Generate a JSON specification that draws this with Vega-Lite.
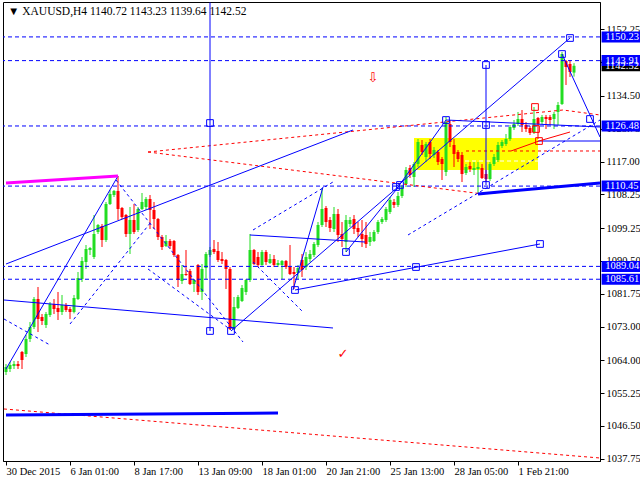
{
"$schema": "https://vega.github.io/schema/vega-lite/v6.json",
"width": 597, "height": 459, "padding": 0, "background": "white",
"config": {"view": {"stroke": "black", "strokeWidth": 1}, "font": "Liberation Sans Narrow", "scale": {"continuousPadding": 0},
  "axis": {"grid": false, "domainColor": "black", "tickColor": "black", "labelColor": "black", "labelFont": "Liberation Sans Narrow", "labelFontSize": 10.5, "labelOverlap": false, "labelFlush": false}},
"datasets": {
 "candles": [
{"i":0,"o":1060.87,"h":1063.01,"l":1060.07,"c":1062.21},
{"i":1,"o":1061.67,"h":1063.54,"l":1060.87,"c":1062.74},
{"i":2,"o":1062.47,"h":1063.81,"l":1061.67,"c":1063.01},
{"i":3,"o":1063.01,"h":1063.81,"l":1061.67,"c":1062.47},
{"i":4,"o":1066.21,"h":1066.47,"l":1061.67,"c":1064.07},
{"i":5,"o":1065.67,"h":1070.74,"l":1064.87,"c":1069.67},
{"i":6,"o":1069.67,"h":1074.21,"l":1068.87,"c":1072.87},
{"i":7,"o":1072.87,"h":1080.87,"l":1072.34,"c":1080.34},
{"i":8,"o":1080.34,"h":1083.54,"l":1071.54,"c":1075.01},
{"i":9,"o":1075.54,"h":1076.34,"l":1073.41,"c":1074.47},
{"i":10,"o":1073.41,"h":1076.87,"l":1072.61,"c":1076.34},
{"i":11,"o":1076.07,"h":1079.54,"l":1075.54,"c":1079.01},
{"i":12,"o":1079.01,"h":1080.34,"l":1076.34,"c":1077.67},
{"i":13,"o":1077.94,"h":1082.21,"l":1074.74,"c":1076.87},
{"i":14,"o":1076.87,"h":1081.41,"l":1076.07,"c":1078.74},
{"i":15,"o":1078.74,"h":1079.27,"l":1076.87,"c":1077.41},
{"i":16,"o":1077.67,"h":1078.21,"l":1075.01,"c":1076.87},
{"i":17,"o":1076.87,"h":1081.41,"l":1076.5,"c":1080.61},
{"i":18,"o":1080.34,"h":1087.54,"l":1080.07,"c":1085.94},
{"i":19,"o":1085.67,"h":1091.54,"l":1084.87,"c":1090.47},
{"i":20,"o":1090.21,"h":1094.74,"l":1088.34,"c":1093.67},
{"i":21,"o":1093.41,"h":1094.21,"l":1092.07,"c":1093.94},
{"i":22,"o":1091.54,"h":1102.74,"l":1091.01,"c":1097.67},
{"i":23,"o":1098.21,"h":1100.34,"l":1097.67,"c":1100.07},
{"i":24,"o":1099.81,"h":1100.34,"l":1094.21,"c":1096.07},
{"i":25,"o":1096.07,"h":1106.21,"l":1095.54,"c":1105.67},
{"i":26,"o":1105.67,"h":1109.41,"l":1105.41,"c":1108.34},
{"i":27,"o":1108.07,"h":1109.41,"l":1107.54,"c":1109.14},
{"i":28,"o":1109.14,"h":1113.14,"l":1101.41,"c":1104.34},
{"i":29,"o":1104.61,"h":1104.87,"l":1101.67,"c":1102.21},
{"i":30,"o":1102.74,"h":1103.01,"l":1096.87,"c":1097.67},
{"i":31,"o":1097.67,"h":1104.87,"l":1092.34,"c":1101.41},
{"i":32,"o":1101.41,"h":1105.67,"l":1097.67,"c":1098.21},
{"i":33,"o":1098.74,"h":1104.87,"l":1098.21,"c":1104.34},
{"i":34,"o":1104.34,"h":1108.61,"l":1104.07,"c":1106.21},
{"i":35,"o":1104.87,"h":1107.54,"l":1104.07,"c":1107.01},
{"i":36,"o":1107.01,"h":1108.07,"l":1099.01,"c":1104.07},
{"i":37,"o":1104.07,"h":1106.21,"l":1099.01,"c":1101.67},
{"i":38,"o":1101.67,"h":1101.94,"l":1096.07,"c":1096.87},
{"i":39,"o":1096.87,"h":1097.41,"l":1093.41,"c":1094.21},
{"i":40,"o":1094.47,"h":1097.41,"l":1094.21,"c":1095.81},
{"i":41,"o":1095.81,"h":1096.34,"l":1093.67,"c":1094.47},
{"i":42,"o":1095.81,"h":1096.07,"l":1091.54,"c":1092.07},
{"i":43,"o":1092.07,"h":1092.34,"l":1083.54,"c":1085.41},
{"i":44,"o":1085.14,"h":1089.41,"l":1084.34,"c":1087.01},
{"i":45,"o":1087.01,"h":1093.41,"l":1086.5,"c":1086.74},
{"i":46,"o":1087.81,"h":1088.34,"l":1084.07,"c":1084.34},
{"i":47,"o":1084.34,"h":1085.67,"l":1082.21,"c":1085.41},
{"i":48,"o":1089.41,"h":1089.67,"l":1081.41,"c":1082.21},
{"i":49,"o":1082.21,"h":1089.67,"l":1080.07,"c":1088.34},
{"i":50,"o":1088.61,"h":1092.87,"l":1085.67,"c":1092.34},
{"i":51,"o":1092.07,"h":1094.21,"l":1091.54,"c":1093.41},
{"i":52,"o":1093.67,"h":1096.07,"l":1092.34,"c":1092.87},
{"i":53,"o":1093.14,"h":1095.54,"l":1090.21,"c":1090.74},
{"i":54,"o":1091.01,"h":1092.87,"l":1089.67,"c":1090.47},
{"i":55,"o":1090.74,"h":1091.01,"l":1083.01,"c":1088.34},
{"i":56,"o":1088.34,"h":1088.87,"l":1072.07,"c":1072.34},
{"i":57,"o":1072.34,"h":1080.87,"l":1072.07,"c":1078.21},
{"i":58,"o":1077.94,"h":1081.41,"l":1077.67,"c":1080.87},
{"i":59,"o":1079.81,"h":1084.07,"l":1079.54,"c":1083.27},
{"i":60,"o":1082.21,"h":1085.67,"l":1081.41,"c":1085.41},
{"i":61,"o":1085.41,"h":1097.67,"l":1084.87,"c":1093.41},
{"i":62,"o":1093.41,"h":1093.67,"l":1089.41,"c":1089.67},
{"i":63,"o":1091.54,"h":1092.87,"l":1088.87,"c":1089.41},
{"i":64,"o":1089.41,"h":1093.41,"l":1089.2,"c":1092.87},
{"i":65,"o":1092.87,"h":1093.41,"l":1089.41,"c":1090.21},
{"i":66,"o":1089.94,"h":1092.34,"l":1089.67,"c":1091.01},
{"i":67,"o":1091.01,"h":1092.07,"l":1088.87,"c":1089.41},
{"i":68,"o":1089.41,"h":1090.74,"l":1088.87,"c":1089.94},
{"i":69,"o":1089.41,"h":1090.74,"l":1085.67,"c":1090.47},
{"i":70,"o":1090.47,"h":1090.74,"l":1088.34,"c":1088.87},
{"i":71,"o":1088.87,"h":1094.74,"l":1086.74,"c":1087.01},
{"i":72,"o":1087.54,"h":1088.87,"l":1083.01,"c":1087.01},
{"i":73,"o":1087.27,"h":1089.41,"l":1085.67,"c":1088.61},
{"i":74,"o":1090.74,"h":1092.34,"l":1086.21,"c":1088.07},
{"i":75,"o":1088.87,"h":1092.87,"l":1088.07,"c":1091.54},
{"i":76,"o":1091.01,"h":1093.41,"l":1090.21,"c":1092.34},
{"i":77,"o":1092.07,"h":1095.54,"l":1091.54,"c":1095.01},
{"i":78,"o":1094.74,"h":1100.87,"l":1094.21,"c":1100.07},
{"i":79,"o":1100.07,"h":1109.94,"l":1099.54,"c":1104.34},
{"i":80,"o":1104.61,"h":1105.14,"l":1099.54,"c":1100.87},
{"i":81,"o":1101.41,"h":1102.21,"l":1098.21,"c":1099.27},
{"i":82,"o":1099.01,"h":1104.87,"l":1098.21,"c":1103.01},
{"i":83,"o":1103.01,"h":1104.34,"l":1095.54,"c":1097.41},
{"i":84,"o":1097.67,"h":1100.87,"l":1094.21,"c":1096.34},
{"i":85,"o":1095.54,"h":1102.74,"l":1092.87,"c":1101.41},
{"i":86,"o":1100.34,"h":1102.21,"l":1099.54,"c":1101.41},
{"i":87,"o":1101.67,"h":1102.74,"l":1097.67,"c":1099.01},
{"i":88,"o":1099.27,"h":1100.87,"l":1096.87,"c":1098.21},
{"i":89,"o":1097.67,"h":1101.41,"l":1094.21,"c":1096.34},
{"i":90,"o":1097.41,"h":1100.87,"l":1093.94,"c":1095.01},
{"i":91,"o":1095.54,"h":1098.21,"l":1094.47,"c":1096.87},
{"i":92,"o":1095.81,"h":1098.74,"l":1095.54,"c":1098.21},
{"i":93,"o":1098.21,"h":1101.41,"l":1097.67,"c":1100.87},
{"i":94,"o":1100.87,"h":1102.21,"l":1100.34,"c":1101.67},
{"i":95,"o":1101.41,"h":1104.87,"l":1100.87,"c":1104.34},
{"i":96,"o":1103.54,"h":1107.54,"l":1103.01,"c":1106.74},
{"i":97,"o":1106.21,"h":1107.01,"l":1104.61,"c":1105.41},
{"i":98,"o":1105.41,"h":1108.87,"l":1104.87,"c":1107.81},
{"i":99,"o":1107.81,"h":1110.74,"l":1107.27,"c":1110.21},
{"i":100,"o":1111.01,"h":1115.54,"l":1110.21,"c":1114.74},
{"i":101,"o":1115.27,"h":1116.07,"l":1112.61,"c":1113.41},
{"i":102,"o":1112.87,"h":1116.87,"l":1110.21,"c":1116.34},
{"i":103,"o":1116.34,"h":1123.01,"l":1115.54,"c":1122.21},
{"i":104,"o":1121.41,"h":1122.74,"l":1118.74,"c":1119.54},
{"i":105,"o":1118.21,"h":1122.21,"l":1116.87,"c":1121.67},
{"i":106,"o":1122.21,"h":1123.01,"l":1117.67,"c":1119.01},
{"i":107,"o":1118.74,"h":1120.87,"l":1117.94,"c":1120.07},
{"i":108,"o":1119.54,"h":1120.07,"l":1116.07,"c":1116.87},
{"i":109,"o":1117.67,"h":1118.21,"l":1112.07,"c":1116.34},
{"i":110,"o":1114.21,"h":1128.87,"l":1113.14,"c":1127.54},
{"i":111,"o":1127.01,"h":1128.07,"l":1120.87,"c":1122.21},
{"i":112,"o":1121.41,"h":1123.01,"l":1115.54,"c":1119.01},
{"i":113,"o":1119.54,"h":1120.07,"l":1116.87,"c":1117.67},
{"i":114,"o":1118.74,"h":1119.54,"l":1111.54,"c":1113.67},
{"i":115,"o":1113.94,"h":1116.34,"l":1113.41,"c":1115.54},
{"i":116,"o":1115.81,"h":1116.87,"l":1114.21,"c":1115.01},
{"i":117,"o":1114.74,"h":1116.87,"l":1113.41,"c":1115.27},
{"i":118,"o":1115.01,"h":1116.87,"l":1108.34,"c":1115.54},
{"i":119,"o":1115.27,"h":1116.34,"l":1112.34,"c":1112.61},
{"i":120,"o":1113.67,"h":1114.74,"l":1111.54,"c":1112.34},
{"i":121,"o":1112.34,"h":1116.87,"l":1111.81,"c":1116.34},
{"i":122,"o":1116.34,"h":1119.01,"l":1115.81,"c":1118.21},
{"i":123,"o":1117.41,"h":1122.21,"l":1116.87,"c":1121.41},
{"i":124,"o":1121.14,"h":1122.74,"l":1120.61,"c":1122.21},
{"i":125,"o":1121.67,"h":1124.34,"l":1121.14,"c":1123.01},
{"i":126,"o":1123.01,"h":1126.74,"l":1122.47,"c":1126.21},
{"i":127,"o":1125.94,"h":1128.07,"l":1125.41,"c":1127.01},
{"i":128,"o":1127.01,"h":1130.21,"l":1126.47,"c":1128.34},
{"i":129,"o":1128.34,"h":1130.74,"l":1124.87,"c":1126.74},
{"i":130,"o":1126.74,"h":1127.54,"l":1124.87,"c":1125.67},
{"i":131,"o":1125.94,"h":1126.47,"l":1124.07,"c":1124.61},
{"i":132,"o":1124.87,"h":1131.54,"l":1124.34,"c":1128.34},
{"i":133,"o":1128.61,"h":1128.87,"l":1123.01,"c":1127.01},
{"i":134,"o":1127.54,"h":1129.41,"l":1127.01,"c":1128.87},
{"i":135,"o":1128.87,"h":1129.41,"l":1125.67,"c":1128.34},
{"i":136,"o":1128.87,"h":1129.41,"l":1126.74,"c":1128.07},
{"i":137,"o":1128.34,"h":1130.21,"l":1125.67,"c":1129.67},
{"i":138,"o":1130.21,"h":1132.87,"l":1126.74,"c":1132.07},
{"i":139,"o":1132.34,"h":1146.21,"l":1132.07,"c":1145.67},
{"i":140,"o":1143.81,"h":1144.07,"l":1137.41,"c":1142.21},
{"i":141,"o":1143.01,"h":1144.07,"l":1139.54,"c":1140.87},
{"i":142,"o":1140.72,"h":1143.23,"l":1139.64,"c":1142.52}
 ],
 "blueSolid": [
{"id":"a","i":0,"p":1061.67},{"id":"a","i":28,"p":1113.14},
{"id":"b","i":0,"p":1089.67},{"id":"b","i":86.75,"p":1125.41},
{"id":"c","i":-0.5,"p":1080.07},{"id":"c","i":81.75,"p":1072.61},
{"id":"d","i":51,"p":1159.4},{"id":"d","i":51,"p":1071.81},
{"id":"e","i":72.25,"p":1082.74},{"id":"e","i":133.5,"p":1095.01},
{"id":"f","i":61,"p":1097.41},{"id":"f","i":89.75,"p":1095.54},
{"id":"g","i":71.75,"p":1082.74},{"id":"g","i":79.25,"p":1110.21},
{"id":"h","i":56.25,"p":1071.81},{"id":"h","i":98,"p":1110.21},
{"id":"k","i":85,"p":1092.87},{"id":"k","i":98.5,"p":1110.74},
{"id":"j","i":98,"p":1110.21},{"id":"j","i":110,"p":1128.07},
{"id":"m","i":97.5,"p":1110.21},{"id":"m","i":141,"p":1149.94},
{"id":"n","i":139,"p":1145.67},{"id":"n","i":148.5,"p":1123.54},
{"id":"q","i":110,"p":1128.07},{"id":"q","i":148.5,"p":1126.21},
{"id":"r","i":133,"p":1122.47},{"id":"r","i":148.5,"p":1122.47},
{"id":"s","i":120,"p":1142.74},{"id":"s","i":120,"p":1110.74}
 ],
 "blueDash": [
{"id":"a","i":27.5,"p":1112.07},{"id":"a","i":59.25,"p":1068.87},
{"id":"b","i":35.5,"p":1088.34},{"id":"b","i":56.25,"p":1072.07},
{"id":"c","i":61.75,"p":1090.21},{"id":"c","i":74.25,"p":1076.87},
{"id":"d","i":100.5,"p":1097.41},{"id":"d","i":148.5,"p":1128.07},
{"id":"e","i":16,"p":1073.67},{"id":"e","i":36.25,"p":1100.87},
{"id":"f","i":61.75,"p":1098.74},{"id":"f","i":81.75,"p":1111.54},
{"id":"g","i":-0.5,"p":1075.01},{"id":"g","i":11,"p":1068.07}
 ],
 "redDash": [
{"id":"a","i":-0.5,"p":1051.01},{"id":"a","i":148.5,"p":1037.94},
{"id":"b","i":35.5,"p":1119.54},{"id":"b","i":139.25,"p":1130.74},{"id":"b","i":148.5,"p":1129.41},
{"id":"c","i":35.5,"p":1119.54},{"id":"c","i":119.25,"p":1108.34},{"id":"c","i":148.5,"p":1111.27},
{"id":"d","i":115,"p":1119.81},{"id":"d","i":148.5,"p":1119.81}
 ],
 "levels": [{"p":1150.23},{"p":1143.91},{"p":1126.48},{"p":1110.45},{"p":1089.04},{"p":1085.61}],
 "labels": [{"p":1142.52,"t":"1142.52","k":"cur"},{"p":1150.23,"t":"1150.23","k":"lvl"},{"p":1143.91,"t":"1143.91","k":"lvl"},{"p":1126.48,"t":"1126.48","k":"lvl"},{"p":1110.45,"t":"1110.45","k":"lvl"},{"p":1089.04,"t":"1089.04","k":"lvl"},{"p":1085.61,"t":"1085.61","k":"lvl"}]
},
"layer": [
 {
 "encoding": {
  "x": {"field": "i", "type": "quantitative", "title": null, "scale": {"domain": [-0.75, 148.5], "nice": false, "zero": false, "padding": 0},
    "axis": {"orient": "bottom", "values": [0,16,32,48,64,80,96,112,128], "labelExpr": "['30 Dec 2015','6 Jan 01:00','8 Jan 17:00','13 Jan 09:00','18 Jan 01:00','20 Jan 21:00','25 Jan 13:00','28 Jan 05:00','1 Feb 21:00'][round(datum.value/16)]", "labelAlign": "left", "labelFlush": false, "labelOverlap": false, "tickSize": 4, "labelPadding": 1, "title": null}},
  "y": {"field": "p", "type": "quantitative", "title": null, "scale": {"domain": [1037.14, 1159.54], "nice": false, "zero": false},
    "axis": {"orient": "right", "values": [1037.75,1046.5,1055.25,1064,1073,1081.75,1090.5,1099.25,1108.25,1117,1125.75,1134.5,1143.5,1152.25], "format": ".2f", "tickSize": 4, "labelPadding": 2, "labelFlush": false, "labelOverlap": false, "labelBaseline": "middle", "title": null}}
 },
 "layer": [
 {"data": {"values": [{"i":102,"i2":133,"p":1114.74,"p2":1123.27}]},
  "mark": {"type": "rect", "color": "#ffff00"},
  "encoding": {"x2": {"field": "i2"}, "y2": {"field": "p2"}}},
 {"data": {"values": [{"i":114.75,"i2":133,"p":1117.14}]},
  "mark": {"type": "rule", "color": "white", "strokeDash": [4,3]},
  "encoding": {"x2": {"field": "i2"}}},
 {"data": {"name": "candles"},
  "mark": {"type": "rule", "strokeWidth": 1},
  "encoding": {"y": {"field": "l", "type": "quantitative", "title": null}, "y2": {"field": "h"},
   "color": {"condition": {"test": "datum.c >= datum.o", "value": "#22dd22"}, "value": "#ff0000"}}},
 {"data": {"name": "candles"},
  "mark": {"type": "bar", "size": 3},
  "encoding": {"y": {"field": "o", "type": "quantitative", "title": null}, "y2": {"field": "c"},
   "color": {"condition": {"test": "datum.c >= datum.o", "value": "#22dd22"}, "value": "#ff0000"}}},
 {"data": {"name": "levels"},
  "mark": {"type": "rule", "color": "#0000ff", "strokeDash": [4,3], "strokeWidth": 1},
  "encoding": {"x": null}},
 {"data": {"name": "redDash"},
  "mark": {"type": "line", "color": "#ff0000", "strokeDash": [3,3], "strokeWidth": 1},
  "encoding": {"detail": {"field": "id"}}},
 {"data": {"name": "blueDash"},
  "mark": {"type": "line", "color": "#0000ff", "strokeDash": [3,3], "strokeWidth": 1},
  "encoding": {"detail": {"field": "id"}}},
 {"data": {"name": "blueSolid"},
  "mark": {"type": "line", "color": "#0000ff", "strokeWidth": 1},
  "encoding": {"detail": {"field": "id"}}},
 {"data": {"values": [{"id":"a","i":126.25,"p":1119.81},{"id":"a","i":133.25,"p":1122.47},{"id":"a","i":141,"p":1124.87}]},
  "mark": {"type": "line", "color": "#ff0000", "strokeWidth": 1},
  "encoding": {"detail": {"field": "id"}}},
 {"data": {"values": [{"id":"a","i":0,"p":1049.41},{"id":"a","i":68,"p":1049.94},{"id":"b","i":118,"p":1108.34},{"id":"b","i":148.5,"p":1111.27}]},
  "mark": {"type": "line", "color": "#0000ff", "strokeWidth": 3},
  "encoding": {"detail": {"field": "id"}}},
 {"data": {"values": [{"i":0,"p":1111.27},{"i":28,"p":1113.14}]},
  "mark": {"type": "line", "color": "#ff00ff", "strokeWidth": 3},
  "encoding": {}},
 {"data": {"values": [{"i":51,"p":1127.27},{"i":51,"p":1071.81},{"i":56.25,"p":1071.81},{"i":72.25,"p":1082.74},{"i":85,"p":1092.87},{"i":97.5,"p":1110.21},{"i":98.5,"p":1110.74},{"i":102.5,"p":1088.87},{"i":110,"p":1128.07},{"i":120,"p":1142.74},{"i":120,"p":1126.74},{"i":120,"p":1110.74},{"i":133.5,"p":1095.01},{"i":139,"p":1145.67},{"i":141,"p":1149.94},{"i":146,"p":1128.34}]},
  "mark": {"type": "point", "shape": "square", "filled": false, "size": 45, "color": "#0000ff", "strokeWidth": 1, "opacity": 1},
  "encoding": {}},
 {"data": {"values": [{"i":132.25,"p":1131.54},{"i":132.5,"p":1125.67},{"i":133.25,"p":1122.47}]},
  "mark": {"type": "point", "shape": "square", "filled": false, "size": 45, "color": "#ff0000", "strokeWidth": 1, "opacity": 1},
  "encoding": {}},
 {"data": {"values": [{"i":91.75,"p":1139.27,"t":"⇩"},{"i":84.25,"p":1065.67,"t":"✓"}]},
  "mark": {"type": "text", "color": "#ff0000", "fontSize": 13, "font": "DejaVu Sans", "baseline": "middle", "align": "center"},
  "encoding": {"text": {"field": "t"}}},
 {"data": {"values": [{"i":0.5,"p":1156.87,"t":"▼ XAUUSD,H4  1140.72 1143.23 1139.64 1142.52"}]},
  "mark": {"type": "text", "color": "black", "fontSize": 11.5, "font": "Liberation Sans Narrow", "baseline": "middle", "align": "left"},
  "encoding": {"text": {"field": "t"}}}
 ]},
 {"data": {"name": "labels"},
  "mark": {"type": "bar", "size": 11, "orient": "horizontal", "clip": false},
  "encoding": {"x": {"datum": 148.9, "type": "quantitative", "axis": {"orient": "bottom", "values": [0,16,32,48,64,80,96,112,128], "labelExpr": "['30 Dec 2015','6 Jan 01:00','8 Jan 17:00','13 Jan 09:00','18 Jan 01:00','20 Jan 21:00','25 Jan 13:00','28 Jan 05:00','1 Feb 21:00'][round(datum.value/16)]", "labelAlign": "left", "labelFlush": false, "labelOverlap": false, "tickSize": 4, "labelPadding": 1, "title": null}}, "x2": {"datum": 159.6},
   "y": {"field": "p", "type": "quantitative", "title": null, "axis": {"orient": "right", "values": [1037.75,1046.5,1055.25,1064,1073,1081.75,1090.5,1099.25,1108.25,1117,1125.75,1134.5,1143.5,1152.25], "format": ".2f", "tickSize": 4, "labelPadding": 2, "labelFlush": false, "labelOverlap": false, "labelBaseline": "middle", "title": null}},
   "color": {"condition": {"test": "datum.k == 'cur'", "value": "black"}, "value": "#0000ff"}}},
 {"data": {"name": "labels"},
  "mark": {"type": "text", "color": "white", "fontSize": 10.5, "font": "Liberation Sans Narrow", "baseline": "middle", "align": "left", "clip": false},
  "encoding": {"x": {"datum": 149.8, "type": "quantitative", "axis": {"orient": "bottom", "values": [0,16,32,48,64,80,96,112,128], "labelExpr": "['30 Dec 2015','6 Jan 01:00','8 Jan 17:00','13 Jan 09:00','18 Jan 01:00','20 Jan 21:00','25 Jan 13:00','28 Jan 05:00','1 Feb 21:00'][round(datum.value/16)]", "labelAlign": "left", "labelFlush": false, "labelOverlap": false, "tickSize": 4, "labelPadding": 1, "title": null}},
   "y": {"field": "p", "type": "quantitative", "title": null, "axis": {"orient": "right", "values": [1037.75,1046.5,1055.25,1064,1073,1081.75,1090.5,1099.25,1108.25,1117,1125.75,1134.5,1143.5,1152.25], "format": ".2f", "tickSize": 4, "labelPadding": 2, "labelFlush": false, "labelOverlap": false, "labelBaseline": "middle", "title": null}}, "text": {"field": "t"}}}
]
}
